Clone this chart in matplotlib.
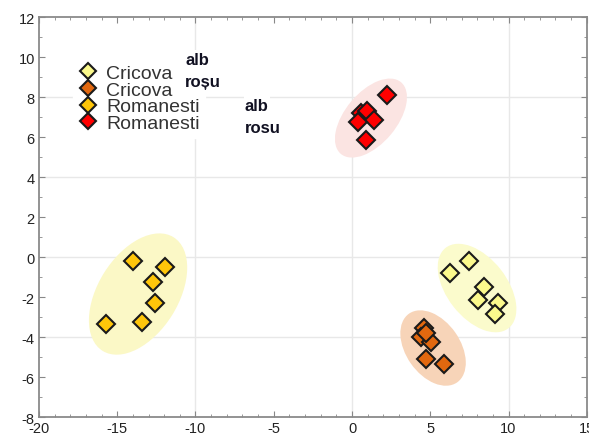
"""Scatter of wine samples (Cricova / Romanesti, alb / rosu) with group ellipses."""

import matplotlib

matplotlib.use("Agg")
import matplotlib.pyplot as plt
from matplotlib.patches import Ellipse
from matplotlib.transforms import Affine2D
from matplotlib.ticker import MultipleLocator

plt.rcParams["font.family"] = ["Liberation Sans", "DejaVu Sans"]
plt.rcParams["axes.unicode_minus"] = False

# --- data ---
groups = ["Cricova alb", "Cricova roșu", "Romanesti alb", "Romanesti rosu"]
legend_names = ["Cricova", "Cricova", "Romanesti", "Romanesti"]
legend_suffix = ["alb", "roșu", "alb", "rosu"]

cricova_alb_x = [6.24, 7.45, 8.41, 8.05, 9.32, 9.11]
cricova_alb_y = [-0.80, -0.22, -1.52, -2.16, -2.30, -2.87]

cricova_rosu_x = [4.59, 4.40, 5.03, 4.71, 5.88, 4.75]
cricova_rosu_y = [-3.57, -3.98, -4.23, -5.11, -5.33, -3.80]

romanesti_alb_x = [-13.97, -11.97, -12.72, -12.57, -15.73, -13.40]
romanesti_alb_y = [-0.22, -0.48, -1.24, -2.30, -3.33, -3.24]

romanesti_rosu_x = [2.22, 0.58, 0.94, 1.41, 0.40, 0.88]
romanesti_rosu_y = [8.12, 7.19, 7.32, 6.87, 6.74, 5.87]

# group ellipses: centre (data), semi-axes (in x-units as displayed), angle (deg, on screen)
ell_cx = [7.99, 5.18, -13.67, 1.21]
ell_cy = [-1.55, -4.55, -1.85, 6.95]
ell_a = [3.26, 2.68, 4.28, 2.99]
ell_b = [1.92, 1.73, 2.56, 1.65]
ell_angle = [-52, -55, 58, 50]

marker_colors = ["#fbf98c", "#e2680f", "#ffc60a", "#ff0000"]
ellipse_colors = ["#fbfbcc", "#f7d4b8", "#fbf8c6", "#fbe4e2"]

xs = [cricova_alb_x, cricova_rosu_x, romanesti_alb_x, romanesti_rosu_x]
ys = [cricova_alb_y, cricova_rosu_y, romanesti_alb_y, romanesti_rosu_y]

XLIM = (-20, 15)
YLIM = (-8, 12)

fig = plt.figure(figsize=(5.89, 4.39), dpi=100)
ax = fig.add_axes([0.0662, 0.0478, 0.930, 0.911])
ax.set_xlim(*XLIM)
ax.set_ylim(*YLIM)

# screen aspect so ellipses can be given as drawn on screen
ax_w = fig.get_figwidth() * fig.dpi * 0.930
ax_h = fig.get_figheight() * fig.dpi * 0.911
sx = ax_w / (XLIM[1] - XLIM[0])
sy = ax_h / (YLIM[1] - YLIM[0])
k = sx / sy
ell_tr = Affine2D().scale(1, k) + ax.transData

for cx, cy, a, b, ang, col in zip(ell_cx, ell_cy, ell_a, ell_b, ell_angle, ellipse_colors):
    ax.add_patch(Ellipse((cx, cy / k), 2 * a, 2 * b, angle=ang, transform=ell_tr,
                         facecolor=col, edgecolor="none", zorder=1))

handles = []
for x, y, col, name in zip(xs, ys, marker_colors, legend_names):
    h, = ax.plot(x, y, "D", ms=9, mfc=col, mec="#1a1a1a", mew=1.5, ls="none",
                 label=name, zorder=3)
    handles.append(h)

# grid and ticks
ax.xaxis.set_major_locator(MultipleLocator(5))
ax.xaxis.set_minor_locator(MultipleLocator(1))
ax.yaxis.set_major_locator(MultipleLocator(2))
ax.yaxis.set_minor_locator(MultipleLocator(1))
for v in (-10, 0, 10):
    ax.axvline(v, color="#e8e8e8", lw=1.0, zorder=0)
for v in (-4, 0, 4, 8):
    ax.axhline(v, color="#e8e8e8", lw=1.0, zorder=0)
ax.tick_params(which="both", direction="in", top=True, right=True,
               color="#888888", labelsize=10.5, labelcolor="#222222", pad=3)
ax.tick_params(which="major", length=4)
ax.tick_params(which="minor", length=2.5)
for s in ax.spines.values():
    s.set_color("#8a8a8a")
    s.set_linewidth(1.3)

leg = ax.legend(handles=handles, loc="upper left", bbox_to_anchor=(0.062, 0.897),
                borderaxespad=0, frameon=True, fontsize=14, handletextpad=0.45,
                labelspacing=-0.04, borderpad=0.3, handlelength=0.95,
                labelcolor="#333333", markerscale=0.9)
leg.get_frame().set_facecolor("white")
leg.get_frame().set_edgecolor("white")
leg.get_frame().set_alpha(1)
leg.set_zorder(4)

# bold suffix labels sitting next to the legend names
suffix_pos = [(0.267, 0.895), (0.267, 0.84), (0.376, 0.78), (0.376, 0.725)]
for (tx, ty), txt in zip(suffix_pos, legend_suffix):
    ax.text(tx, ty, txt, transform=ax.transAxes, fontsize=12, fontweight="bold",
            color="#111122", va="center", ha="left", zorder=5,
            bbox=dict(facecolor="white", edgecolor="none", pad=1))

fig.savefig("out.png", dpi=100)
